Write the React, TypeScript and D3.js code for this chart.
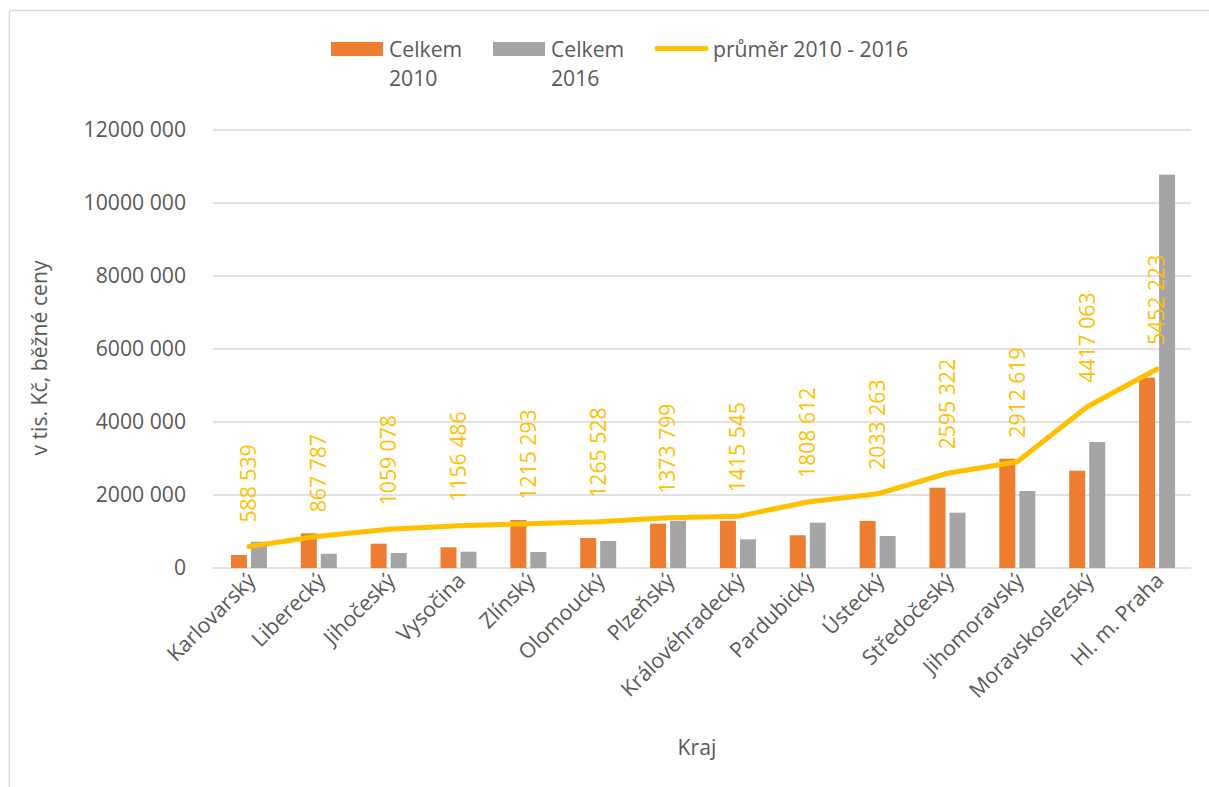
import React from "react";
import * as d3 from "d3";

const categories = [
  "Karlovarský", "Liberecký", "Jihočeský", "Vysočina", "Zlínský", "Olomoucký", "Plzeňský",
  "Královéhradecký", "Pardubický", "Ústecký", "Středočeský", "Jihomoravský", "Moravskoslezský", "Hl. m. Praha",
];
const celkem2010 = [356000, 950000, 666000, 567000, 1315000, 822000, 1214000, 1296000, 896000, 1290000, 2200000, 2995000, 2666000, 5214000];
const celkem2016 = [720000, 392000, 411000, 447000, 438000, 740000, 1296000, 786000, 1241000, 877000, 1515000, 2110000, 3452000, 10775000];
const prumer = [588539, 867787, 1059078, 1156486, 1215293, 1265528, 1373799, 1415545, 1808612, 2033263, 2595322, 2912619, 4417063, 5452223];
const yTicks = [0, 2000000, 4000000, 6000000, 8000000, 10000000, 12000000];
const seriesNames = ["Celkem 2010", "Celkem 2016"];

const ORANGE = "#ED7D31";
const GRAY = "#A5A5A5";
const YELLOW = "#FFC000";
const TEXT = "#595959";
const GRID = "#D9D9D9";
const FONT = "'Open Sans', sans-serif";
const FS = 21.2;

function fmt(v: number): string {
  if (v < 1000) return String(v);
  const hi = Math.floor(v / 1000);
  const lo = v % 1000;
  return `${hi} ${String(lo).padStart(3, "0")}`;
}

export default function App() {
  const W = 1209, H = 787;
  const left = 213, right = 1191, top = 130, bottom = 568;
  const x = d3.scaleBand<string>().domain(categories).range([left, right]).padding(0);
  const x1 = d3.scaleBand<string>().domain(seriesNames).range([0, 36]).paddingInner(0.2);
  const y = d3.scaleLinear().domain([0, 12000000]).range([bottom, top]);
  const cx = (c: string) => (x(c) as number) + x.bandwidth() / 2;
  const line = d3.line<number>().x((_, i) => cx(categories[i]) + 1).y((d) => y(d));

  return (
    <svg width={W} height={H} style={{ position: "absolute", left: 0, top: 0, background: "#fff" }} fontFamily={FONT}>
      <rect x={0} y={0} width={W} height={H} fill="#fff" />
      <line x1={9.5} y1={10.5} x2={W} y2={10.5} stroke={GRID} strokeWidth={1.5} />
      <line x1={9.5} y1={10.5} x2={9.5} y2={H} stroke={GRID} strokeWidth={1.5} />

      {/* gridlines and y labels */}
      {yTicks.map((t) => (
        <g key={t}>
          <line x1={left} x2={right} y1={y(t)} y2={y(t)} stroke={GRID} strokeWidth={1.3} />
          <text x={186} y={y(t)} dy="0.35em" textAnchor="end" fontSize={FS} fill={TEXT}>{fmt(t)}</text>
        </g>
      ))}

      {/* bars */}
      {categories.map((c, i) => {
        const gx = cx(c) - 18 + 1;
        return (
          <g key={c}>
            <rect x={gx + (x1(seriesNames[0]) as number)} width={x1.bandwidth()} y={y(celkem2010[i])} height={bottom - y(celkem2010[i])} fill={ORANGE} />
            <rect x={gx + (x1(seriesNames[1]) as number)} width={x1.bandwidth()} y={y(celkem2016[i])} height={bottom - y(celkem2016[i])} fill={GRAY} />
          </g>
        );
      })}

      {/* average line */}
      <path d={line(prumer) as string} fill="none" stroke={YELLOW} strokeWidth={5} strokeLinecap="round" strokeLinejoin="round" />

      {/* data labels */}
      {categories.map((c, i) => {
        const px = cx(c) + 1;
        const py = y(prumer[i]) - 24;
        return (
          <text key={c} transform={`translate(${px},${py}) rotate(-90)`} textAnchor="start" dy="0.35em" fontSize={FS} fill={YELLOW}>
            {fmt(prumer[i])}
          </text>
        );
      })}

      {/* x labels */}
      {categories.map((c) => (
        <text key={c} transform={`translate(${cx(c) + 9},${582}) rotate(-45)`} textAnchor="end" fontSize={FS} fill={TEXT}>
          {c}
        </text>
      ))}

      {/* axis titles */}
      <text transform={`translate(${47},${358}) rotate(-90)`} textAnchor="middle" fontSize={FS} fill={TEXT}>v tis. Kč, běžné ceny</text>
      <text x={697} y={755} textAnchor="middle" fontSize={FS} fill={TEXT}>Kraj</text>

      {/* legend */}
      <rect x={331} y={42} width={52} height={14} fill={ORANGE} />
      <text x={389} y={57} fontSize={FS} fill={TEXT}>Celkem</text>
      <text x={389} y={86} fontSize={FS} fill={TEXT}>2010</text>
      <rect x={493} y={42} width={52} height={14} fill={GRAY} />
      <text x={551} y={57} fontSize={FS} fill={TEXT}>Celkem</text>
      <text x={551} y={86} fontSize={FS} fill={TEXT}>2016</text>
      <line x1={657} x2={706} y1={48.5} y2={48.5} stroke={YELLOW} strokeWidth={5} strokeLinecap="round" />
      <text x={713} y={57} fontSize={FS} fill={TEXT}>průměr 2010 - 2016</text>
    </svg>
  );
}
